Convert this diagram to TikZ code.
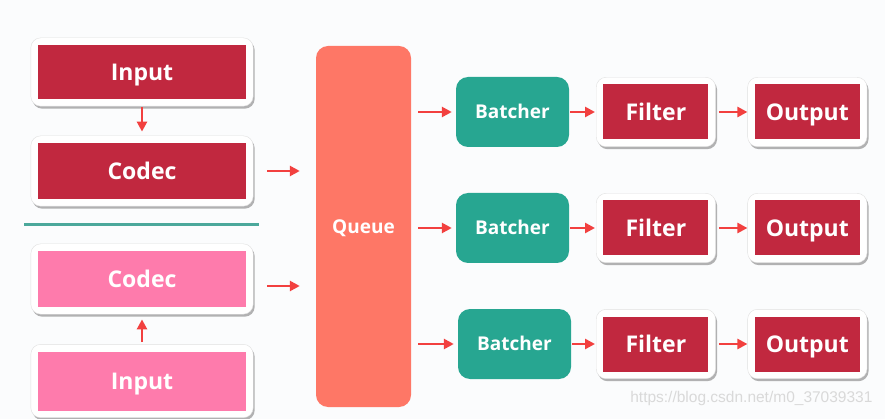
\documentclass[tikz,border=0pt]{standalone}
\usepackage{fontspec}
\setmainfont{Open Sans}
\newfontfamily\urlfont{Liberation Sans}
\usetikzlibrary{arrows.meta, calc, positioning, fit, backgrounds, shadows}
\definecolor{blkred}{HTML}{C1283F}
\definecolor{blkpink}{HTML}{FE7BAC}
\definecolor{queuesal}{HTML}{FE7766}
\definecolor{batchteal}{HTML}{27A691}
\definecolor{arrred}{HTML}{F2403F}
\definecolor{divteal}{HTML}{4BA89B}
\definecolor{bgcol}{HTML}{FBFCFD}

\begin{document}
\begin{tikzpicture}[
    x=1pt, y=-1pt,
    node distance=8pt and 34pt,
    every node/.style={font=\fontsize{23}{26}\selectfont\bfseries, text=white},
    blk/.style={rectangle, align=center, minimum width=208pt, inner sep=0pt, text height=16.5pt, text depth=0pt},
    inred/.style={blk, fill=blkred},
    inpink/.style={blk, fill=blkpink},
    sbox/.style={rectangle, fill=blkred, minimum width=105pt, minimum height=55pt, inner sep=0pt, text height=16.5pt, text depth=0pt},
    whiteframe/.style={draw=black!12, fill=white, rounded corners=10pt, inner sep=7pt,
      drop shadow={shadow xshift=1.5pt, shadow yshift=-2.5pt, fill=black!50, opacity=0.6}},
    batch/.style={fill=batchteal, rounded corners=12pt, minimum width=113pt, minimum height=70pt,
      text height=13.5pt, text depth=0pt, font=\fontsize{19}{22}\selectfont\bfseries},
    arr/.style={-{Triangle[length=10pt, width=10pt]}, line width=2.5pt, draw=arrred},
  ]
  \useasboundingbox (0,0) rectangle (885,419);
  % --- first input (red)
  \node[inred, minimum height=54pt] (in1) at (142,72)  {Input};
  \node[inred, minimum height=56pt] (cd1) at (142,171) {Codec};
  % --- second input (pink)
  \node[inpink, minimum height=56pt] (cd2) at (142,279) {Codec};
  \node[inpink, minimum height=59pt] (in2) at (142,381) {Input};
  % --- queue
  \node[fill=queuesal, rounded corners=12pt, minimum width=95pt, minimum height=361pt,
        text height=13.5pt, text depth=0pt, font=\fontsize{19}{22}\selectfont\bfseries] (q) at (363.5,226.5) {Queue};
  % --- pipelines
  \node[batch] (b1) at (512.5,112) {Batcher};
  \node[sbox, right=34pt of b1] (f1) {Filter};
  \node[sbox, right=46pt of f1] (o1) {Output};
  \node[batch] (b2) at (512.5,228) {Batcher};
  \node[sbox, right=34pt of b2] (f2) {Filter};
  \node[sbox, right=46pt of f2] (o2) {Output};
  \node[batch] (b3) at (514.5,344) {Batcher};
  \node[sbox, right=32pt of b3] (f3) {Filter};
  \node[sbox, right=46pt of f3] (o3) {Output};
  % --- frames
  \begin{scope}[on background layer]
    \fill[bgcol] (0,0) rectangle (885,419);
    \node[whiteframe, fit=(in1)] (in1f) {};
    \node[whiteframe, fit=(cd1)] (cd1f) {};
    \node[whiteframe, fit=(cd2)] (cd2f) {};
    \node[whiteframe, fit=(in2)] (in2f) {};
    \node[whiteframe, fit=(f1)] (f1f) {};
    \node[whiteframe, fit=(o1)] (o1f) {};
    \node[whiteframe, fit=(f2)] (f2f) {};
    \node[whiteframe, fit=(o2)] (o2f) {};
    \node[whiteframe, fit=(f3)] (f3f) {};
    \node[whiteframe, fit=(o3)] (o3f) {};
  \end{scope}
  % --- divider
  \draw[divteal, line width=3pt] (24,225) -- (259,225);
  % --- edges
  \draw[arr, shorten <=1pt, shorten >=4pt] (in1f) -- (cd1f);
  \draw[arr, shorten <=2pt, shorten >=5pt] (in2f) -- (cd2f);
  \draw[arr, shorten <=14pt, shorten >=16pt] (cd1f.east) -- (cd1f.east -| q.west);
  \coordinate (c2) at ($(cd2f.east)+(0,7)$);
  \draw[arr, shorten <=14pt, shorten >=16pt] (c2) -- (c2 -| q.west);
  \draw[arr, shorten <=7pt, shorten >=4pt] (q.east |- b1) -- (b1);
  \draw[arr, shorten <=7pt, shorten >=4pt] (q.east |- b2) -- (b2);
  \draw[arr, shorten <=7pt, shorten >=4pt] (q.east |- b3) -- (b3);
  \draw[arr, shorten <=1pt, shorten >=1pt] (b1) -- (f1f);
  \draw[arr, shorten <=1pt, shorten >=1pt] (b2) -- (f2f);
  \draw[arr, shorten <=1pt, shorten >=1pt] (b3) -- (f3f);
  \draw[arr, shorten <=3pt] (f1f) -- (o1f);
  \draw[arr, shorten <=3pt] (f2f) -- (o2f);
  \draw[arr, shorten <=3pt] (f3f) -- (o3f);
  % --- watermark
  \node[font=\urlfont\fontsize{15.5}{17}\selectfont, text=black!15, anchor=east] (wm) at (876,398) {https://blog.csdn.net/m0\_37039331};
\end{tikzpicture}
\end{document}
